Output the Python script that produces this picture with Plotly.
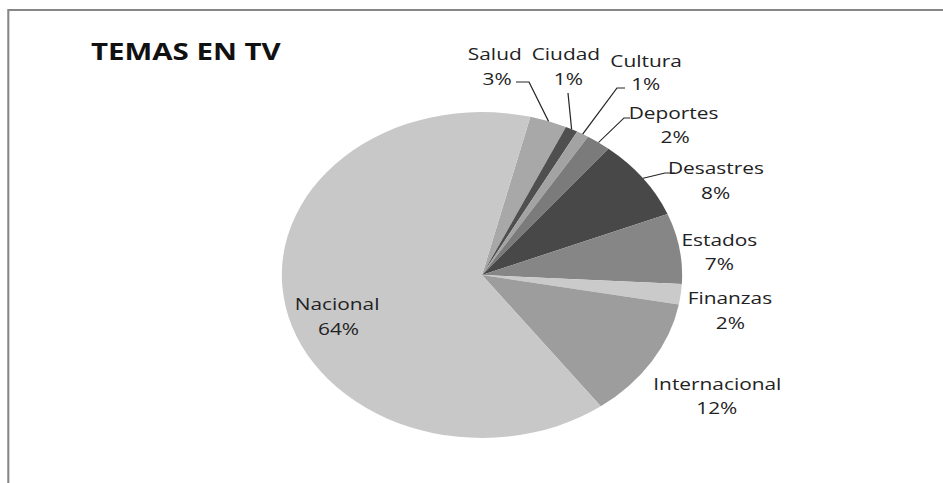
import math
import plotly.graph_objects as go

# ---------------- data ----------------
labels = ["Salud", "Ciudad", "Cultura", "Deportes", "Desastres",
          "Estados", "Finanzas", "Internacional", "Nacional"]
values = [3, 1, 1, 2, 8, 7, 2, 12, 64]
colors = ["#a8a8a8", "#4f4f4f", "#a3a3a3", "#7b7b7b", "#484848",
          "#868686", "#cacaca", "#9d9d9d", "#c8c8c8"]
title_text = "TEMAS EN TV"

# ---------------- layout geometry ----------------
W_OUT, H = 943, 483          # final picture size
W = 768                       # figure drawn narrower, then stretched horizontally
S = W_OUT / W
ROT = 14                      # start angle of first slice (deg, clockwise from 12 o'clock)
CX_PX, CY_PX, R = 482, 275, 163   # pie centre (in final px) and radius

cxp = CX_PX / W_OUT
cyp = 1 - CY_PX / H
half_h = R / H
half_w = 0.25

# label text centres (final px): name line, percentage line
name_pos = [(495, 54), (566, 54), (646, 60), (674, 112.5), (716, 167.5),
            (719, 239), (730, 297), (717, 383), (337, 303)]
pct_pos = [(497, 78.5), (568, 78.5), (646, 83.5), (675, 136.5), (716, 192),
           (720, 263), (731, 322), (717, 407), (339, 328)]
# leader line start/elbow points (final px) for small slices
leaders = {
    "Salud": [(516, 82), (529, 82)],
    "Ciudad": [(568, 93)],
    "Cultura": [(625, 88), (617, 88)],
    "Deportes": [(630, 118), (624, 118)],
    "Desastres": [(675, 173), (665, 173)],
}

fig = go.Figure(go.Pie(
    labels=labels, values=values, sort=False, direction="clockwise",
    rotation=ROT, marker=dict(colors=colors, line=dict(width=0)),
    textinfo="none", hoverinfo="label+percent", showlegend=False,
    domain=dict(x=[cxp - half_w, cxp + half_w], y=[cyp - half_h, cyp + half_h]),
))

total = sum(values)
font = dict(family="Open Sans", size=17, color="#222222")
annotations = []
shapes = []
cum = 0.0
for i, (lab, v) in enumerate(zip(labels, values)):
    mid = math.radians(ROT + (cum + v / 2) / total * 360)
    cum += v
    nx, ny = name_pos[i]
    px, py = pct_pos[i]
    annotations.append(dict(x=nx / W_OUT, y=1 - ny / H, xref="paper", yref="paper",
                            text=lab, showarrow=False, font=font,
                            xanchor="center", yanchor="middle"))
    annotations.append(dict(x=px / W_OUT, y=1 - py / H, xref="paper", yref="paper",
                            text=f"{v / total * 100:.0f}%", showarrow=False, font=font,
                            xanchor="center", yanchor="middle"))
    if lab in leaders:
        pts = [(x / W_OUT, 1 - y / H) for x, y in leaders[lab]]
        ex = cxp + (R / W) * math.sin(mid)
        ey = cyp + (R / H) * math.cos(mid)
        pts.append((ex, ey))
        path = "M " + " L ".join(f"{x:.5f},{y:.5f}" for x, y in pts)
        shapes.append(dict(type="path", xref="paper", yref="paper", path=path,
                           line=dict(color="#262626", width=1)))

# chart-area border (top and left edges visible)
shapes.append(dict(type="line", xref="paper", yref="paper",
                   x0=8 / W_OUT, x1=1.0, y0=1 - 10 / H, y1=1 - 10 / H,
                   line=dict(color="#878787", width=2)))
shapes.append(dict(type="line", xref="paper", yref="paper",
                   x0=8.3 / W_OUT, x1=8.3 / W_OUT, y0=1 - 9 / H, y1=0.0,
                   line=dict(color="#878787", width=1.7)))

annotations.append(dict(x=186.5 / W_OUT, y=1 - 50.5 / H, xref="paper", yref="paper",
                        text=f"<b>{title_text}</b>", showarrow=False,
                        font=dict(family="Open Sans", size=24, color="#111111"),
                        xanchor="center", yanchor="middle"))

fig.update_layout(
    width=W, height=H, margin=dict(l=0, r=0, t=0, b=0),
    paper_bgcolor="white", plot_bgcolor="white",
    annotations=annotations, shapes=shapes,
)

post = """
var gd = document.getElementById('{plot_id}');
var de = document.documentElement, bd = document.body;
de.style.overflow = 'hidden'; de.style.margin = '0'; de.style.padding = '0';
de.style.width = '943px'; de.style.height = '483px';
bd.style.overflow = 'hidden'; bd.style.margin = '0'; bd.style.padding = '0';
bd.style.width = '943px'; bd.style.height = '483px';
if (gd.parentNode && gd.parentNode !== bd) {
  gd.parentNode.style.overflow = 'hidden';
  gd.parentNode.style.width = '943px';
  gd.parentNode.style.height = '483px';
}
gd.style.transformOrigin = '0 0';
gd.style.transform = 'scaleX(%f)';
""" % S

fig.write_html("out.html", config={"displayModeBar": False, "responsive": False},
               default_width=f"{W}px", default_height=f"{H}px", post_script=post)
